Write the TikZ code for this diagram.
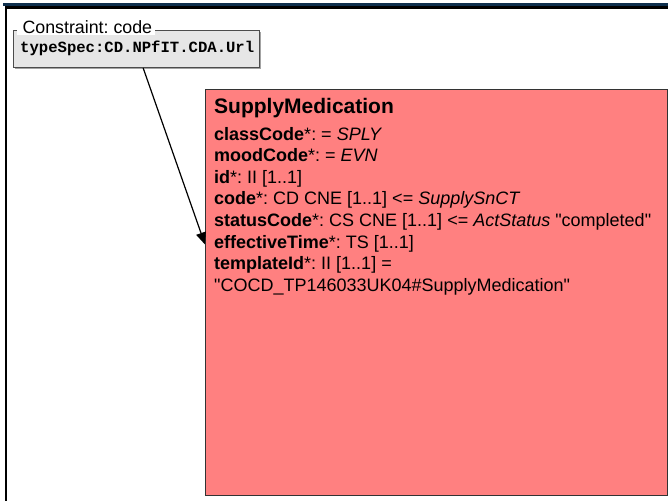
\documentclass[tikz,border=0pt]{standalone}
\usepackage{fontspec}
\setmainfont{Liberation Sans}[Ligatures=TeXOff]
\setmonofont{Liberation Mono}
\usetikzlibrary{arrows.meta,calc,shadows}
\definecolor{bandblue}{HTML}{0E2F4D}
\definecolor{supplypink}{HTML}{FF8080}
\definecolor{constgray}{HTML}{E6E6E6}
\tikzset{
  attr/.style={anchor=base west,inner sep=0pt,font=\fontsize{18}{21.6}\selectfont},
  classbox/.style={draw=black!80,line width=1pt,fill=supplypink,anchor=north west,inner sep=0pt},
  constbox/.style={draw=black!70,line width=1pt,fill=constgray,anchor=north west,inner sep=0pt,
    drop shadow={shadow xshift=1pt,shadow yshift=-1pt,opacity=0.6,fill=black!60}},
  link/.style={line width=1.2pt,-{Triangle[length=12pt,width=10pt]}}
}

\begin{document}
\frenchspacing
\begin{tikzpicture}[x=1pt,y=-1pt]
\useasboundingbox (0,0) rectangle (668,501);
% frame
\fill[bandblue] (3,3) rectangle (668,5.5);
\fill[black] (4.5,5.5) rectangle (668,9);
\fill[black] (4.7,5.5) rectangle (7.4,501);
% constraint
\node[constbox,minimum width=246pt,minimum height=37pt] (con) at (13,30) {};
\node[anchor=base west,fill=white,inner ysep=1pt,font=\fontsize{17.8}{20}\selectfont] (conlabel) at (17,33.5) {\hspace{2pt}Constraint: code\hspace{5pt}};
\node[anchor=base west,inner sep=0pt,font=\fontsize{15.6}{18}\selectfont\ttfamily\bfseries] (contype) at (20,52) {typeSpec:CD.NPfIT.CDA.Url};
% class
\node[classbox,minimum width=462pt,minimum height=406pt] (supply) at (205,89) {};
\node[attr,font=\fontsize{21}{25}\selectfont\bfseries] (title) at (214,113) {SupplyMedication};
\node[attr] (classcode) at (214,140) {\textbf{classCode}*: = \textit{SPLY}};
\node[attr] (moodcode) at (214,161.6) {\textbf{moodCode}*: = \textit{EVN}};
\node[attr] (idattr) at (214,183.2) {\textbf{id}*: II [1..1]};
\node[attr] (codeattr) at (214,204.8) {\textbf{code}*: CD CNE [1..1] <= \textit{SupplySnCT}};
\node[attr] (status) at (214,226.4) {\textbf{statusCode}*: CS CNE [1..1] <= \textit{ActStatus} "completed"};
\node[attr] (efftime) at (214,248) {\textbf{effectiveTime}*: TS [1..1]};
\node[attr] (template) at (214,269.6) {\textbf{templateId}*: II [1..1] =};
\node[attr] (templateval) at (214,291.2) {"COCD\_TP146033UK04\#SupplyMedication"};
% link
\draw[link] ($(con.south west)!0.527!(con.south east)$) -- ($(supply.north west)!0.382!(supply.south west)$);
\end{tikzpicture}
\end{document}
